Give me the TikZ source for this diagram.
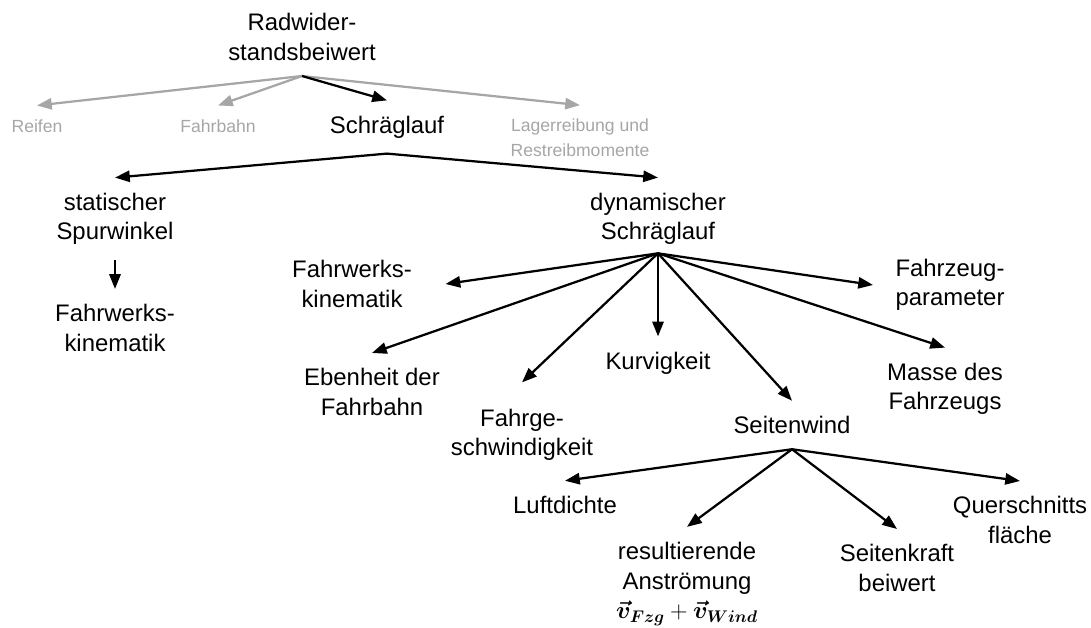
\documentclass[tikz,border=0pt]{standalone}
\usepackage{fontspec}
\setmainfont{Liberation Sans}
\usepackage{amsmath,bm}
\usetikzlibrary{arrows.meta}
\definecolor{faintgray}{RGB}{166,166,166}

\begin{document}
\begin{tikzpicture}[x=0.025cm,y=-0.025cm,
  item/.style={align=center,inner sep=0pt,outer sep=11pt,font=\fontsize{17}{21}\selectfont},
  minor/.style={item,outer sep=10pt,text=faintgray,font=\fontsize{12.5}{17.5}\selectfont},
  link/.style={line width=1.6pt,-{Triangle[length=10.5pt,width=8pt]}},
  faint/.style={link,draw=faintgray}
]
  \useasboundingbox (0,0) rectangle (1091,628);
  % top level
  \path (302,37) node[item] (rw) {Radwider-\\standsbeiwert}
        (37,126) node[minor] (rf) {Reifen}
        (218,126) node[minor] (fb) {Fahrbahn}
        (387,127) node[item] (sl) {Schräglauf}
        (580,138) node[minor] (lr) {Lagerreibung und\\Restreibmomente};
  \draw[faint] (rw.south) -- (rf.north);
  \draw[faint] (rw.south) -- (fb.north);
  \draw[faint] (rw.south) -- (lr.north);
  \draw[link] (rw.south) -- (sl.north);
  % static / dynamic
  \path (115,219) node[item] (st) {statischer\\Spurwinkel}
        (658,219) node[item] (dy) {dynamischer\\Schräglauf}
        (115,328) node[item] (fk) {Fahrwerks-\\kinematik};
  \draw[link] (sl.south) -- (st.north);
  \draw[link] (sl.south) -- (dy.north);
  \draw[link] (st.south) -- (fk.north);
  % influences of the dynamic slip
  \coordinate (dy-o) at ([yshift=5pt]dy.south);
  \path (352,284) node[item] (fm) {Fahrwerks-\\kinematik}
        (372,392) node[item] (eb) {Ebenheit der\\Fahrbahn}
        (522,435) node[item] (fg) {Fahrge-\\schwindigkeit}
        (658,363) node[item] (kv) {Kurvigkeit}
        (792,425) node[item] (sw) {Seitenwind}
        (945,389) node[item] (ms) {Masse des\\Fahrzeugs}
        (950,285) node[item] (fz) {Fahrzeug-\\parameter};
  \draw[link] (dy-o) -- ([xshift=13pt]fm.east);
  \draw[link] (dy-o) -- (eb.north);
  \draw[link] (dy-o) -- ([yshift=8pt]fg.north);
  \draw[link] (dy-o) -- (kv.north);
  \draw[link] (dy-o) -- (sw.north);
  \draw[link] (dy-o) -- (ms.north);
  \draw[link] (dy-o) -- ([xshift=-5pt]fz.west);
  % side wind
  \path (565,505) node[item] (lf) {Luftdichte}
        (687,584) node[item] (ra) {resultierende\\Anströmung\\$\bm{\vec{v}}_{\bm{Fzg}}+\bm{\vec{v}}_{\bm{Wind}}$}
        (897,568) node[item] (sk) {Seitenkraft\\beiwert}
        (1020,520) node[item] (qf) {Querschnitts\\fläche};
  \draw[link] (sw.south) -- (lf.north);
  \draw[link] (sw.south) -- (ra.north);
  \draw[link] (sw.south) -- (sk.north);
  \draw[link] (sw.south) -- (qf.north);
\end{tikzpicture}
\end{document}
